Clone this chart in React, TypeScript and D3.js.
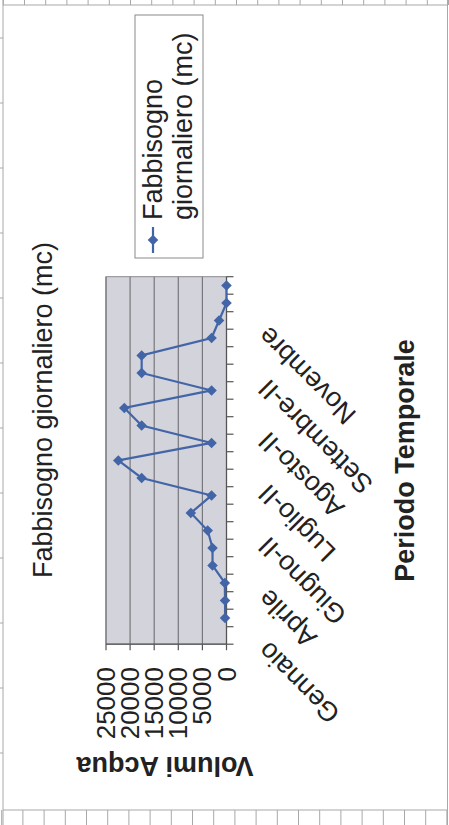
import React from "react";
import * as d3 from "d3";

const categories = [
  "Gennaio", "Febbraio", "Marzo", "Aprile", "Maggio", "Giugno-I", "Giugno-II",
  "Giugno-III", "Luglio-I", "Luglio-II", "Luglio-III", "Agosto-I", "Agosto-II",
  "Agosto-III", "Settembre-I", "Settembre-II", "Settembre-III", "Ottobre",
  "Novembre", "Dicembre-I", "Dicembre-II",
];
const values: (number | null)[] = [
  null, 300, 300, 350, 2900, 2900, 3900, 7400, 3100, 17600, 22450, 3100, 17600,
  21200, 3100, 17600, 17600, 3100, 1550, 0, 0,
];
const yTicks = [0, 5000, 10000, 15000, 20000, 25000];
const seriesName = ["Fabbisogno", "giornaliero (mc)"];
const title = "Fabbisogno giornaliero (mc)";
const xTitle = "Periodo Temporale";
const yTitle = "Volumi Acqua";

const FONT = "'Liberation Sans', Arial, sans-serif";
const W = 449;
const H = 825;

export default function App() {
  const x = d3.scaleBand<string>().domain(categories).range([180.8, 548.3]).padding(0);
  const y = d3.scaleLinear().domain([0, 25000]).range([226.5, 106]);
  const bw = x.bandwidth();
  const pts = categories.map((c, i) => ({ c, v: values[i], cx: (x(c) as number) + bw / 2 }));
  const line = d3
    .line<{ c: string; v: number | null; cx: number }>()
    .defined((d) => d.v != null)
    .x((d) => d.cx)
    .y((d) => y(d.v as number));
  const diamond = d3.symbol().type(d3.symbolSquare).size(56)();
  const [x0, x1] = x.range();
  const [yb, yt] = y.range();
  const boundaries = d3.range(categories.length + 1).map((i) => x0 + i * bw);
  const labelIdx = d3.range(0, categories.length, 3);
  const blue = "#4265a8";

  const topTicks = d3.range(0, 22).map((i) => 3.3 + 21.2 * i);
  const botTicks = d3.range(0, 22).map((i) => 1.7 + 21.2 * i);
  const leftTicks = d3.range(0, 12).map((i) => 38 + 65 * i);

  return (
    <svg
      width={W}
      height={H}
      style={{ position: "absolute", left: 0, top: 0, background: "#fff" }}
    >
      <rect x={0} y={0} width={W} height={H} fill="#fff" />
      {/* page frame */}
      <g stroke="#a8a8a8" strokeWidth={1} fill="none">
        <line x1={3} y1={5} x2={448} y2={5} />
        <line x1={3} y1={810} x2={448} y2={810} />
        <line x1={3} y1={0} x2={3} y2={825} />
        <line x1={447.5} y1={0} x2={447.5} y2={825} />
        {topTicks.map((t, i) => (
          <line key={"t" + i} x1={t} y1={0} x2={t} y2={5} />
        ))}
        {botTicks.map((t, i) => (
          <line key={"b" + i} x1={t} y1={810} x2={t} y2={825} />
        ))}
        {leftTicks.map((t, i) => (
          <line key={"l" + i} x1={0} y1={t} x2={3} y2={t} />
        ))}
      </g>

      <g transform={`translate(0, ${H}) rotate(-90)`} fontFamily={FONT} fill="#222">
        {/* plot area */}
        <rect x={x0} y={yt} width={x1 - x0} height={yb - yt} fill="#d3d3db" stroke="#8a8a90" strokeWidth={1} />
        {yTicks.slice(1).map((t) => (
          <line key={t} x1={x0} x2={x1} y1={y(t)} y2={y(t)} stroke="#77777c" strokeWidth={1.2} />
        ))}
        {/* axes */}
        <line x1={x0} x2={x0} y1={yt} y2={yb} stroke="#555" strokeWidth={1.3} />
        <line x1={x0} x2={x1} y1={yb} y2={yb} stroke="#555" strokeWidth={1.3} />
        {yTicks.map((t) => (
          <line key={"yt" + t} x1={x0 - 6} x2={x0} y1={y(t)} y2={y(t)} stroke="#555" strokeWidth={1.2} />
        ))}
        {boundaries.map((b, i) => (
          <line key={"xt" + i} x1={b} x2={b} y1={yb} y2={yb + 7} stroke="#555" strokeWidth={1.2} />
        ))}
        {yTicks.map((t) => (
          <text
            key={"yl" + t}
            x={158}
            y={y(t)}
            fontSize={26}
            textAnchor="end"
            dominantBaseline="central"
          >
            {t}
          </text>
        ))}
        {labelIdx.map((i) => {
          const cx = (x(categories[i]) as number) + bw / 2 - 11;
          return (
            <text
              key={"cl" + i}
              transform={`translate(${cx}, 263) rotate(-45)`}
              fontSize={27}
              textAnchor="end"
              dominantBaseline="central"
            >
              {categories[i]}
            </text>
          );
        })}
        {/* series */}
        <path d={line(pts) || ""} fill="none" stroke={blue} strokeWidth={2.2} />
        {pts
          .filter((p) => p.v != null)
          .map((p) => (
            <path
              key={"m" + p.c}
              d={diamond || ""}
              transform={`translate(${p.cx}, ${y(p.v as number)}) rotate(45)`}
              fill={blue}
            />
          ))}
        {/* titles */}
        <text x={415} y={51.5} fontSize={27} textAnchor="middle">
          {title}
        </text>
        <text x={(x0 + x1) / 2} y={414} fontSize={27} fontWeight="bold" textAnchor="middle">
          {xTitle}
        </text>
        <text
          transform={`translate(68, 165) rotate(-90)`}
          fontSize={27}
          fontWeight="bold"
          textAnchor="middle"
        >
          {yTitle}
        </text>
        {/* legend */}
        <rect x={567} y={135} width={243} height={68} fill="#fff" stroke="#8a8a8a" strokeWidth={1} />
        <line x1={572} x2={598} y1={153} y2={153} stroke={blue} strokeWidth={2.2} />
        <path d={diamond || ""} transform="translate(585, 153) rotate(45)" fill={blue} />
        <text x={605} y={162} fontSize={27}>
          {seriesName[0]}
        </text>
        <text x={605} y={192} fontSize={27}>
          {seriesName[1]}
        </text>
      </g>
    </svg>
  );
}
